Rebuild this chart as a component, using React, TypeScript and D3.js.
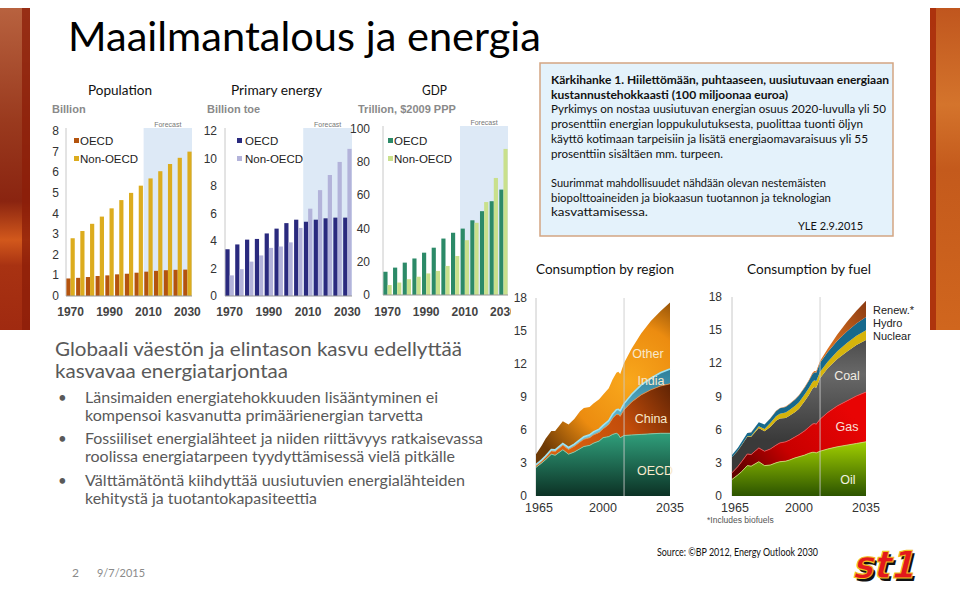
import React from "react";
import * as d3 from "d3";

// ---------- DATA ----------
const barYears = [1970, 1975, 1980, 1985, 1990, 1995, 2000, 2005, 2010, 2015, 2020, 2025, 2030];
const barYearLabels = [1970, 1990, 2010, 2030];
const popOECD = [0.85, 0.88, 0.92, 0.97, 1.0, 1.05, 1.08, 1.13, 1.18, 1.22, 1.25, 1.27, 1.28];
const popNonOECD = [2.8, 3.15, 3.5, 3.85, 4.25, 4.65, 5.0, 5.35, 5.7, 6.05, 6.4, 6.7, 7.0];
const popTicks = [0, 1, 2, 3, 4, 5, 6, 7, 8];
const energyOECD = [3.4, 3.75, 4.1, 4.15, 4.55, 4.9, 5.3, 5.55, 5.4, 5.55, 5.65, 5.7, 5.7];
const energyNonOECD = [1.5, 1.95, 2.5, 2.95, 3.5, 3.6, 3.9, 4.95, 6.35, 7.7, 8.8, 9.75, 10.7];
const energyTicks = [0, 2, 4, 6, 8, 10, 12];
const gdpOECD = [14, 16.5, 19.5, 22, 25.5, 28.5, 34, 37.5, 40, 45, 50.5, 56.5, 63.5];
const gdpNonOECD = [6, 7.5, 9.5, 11, 13, 14.5, 17.5, 23.5, 33, 43.5, 56, 70.5, 88];
const gdpTicks = [0, 20, 40, 60, 80, 100];

const areaYears = [1965, 1968, 1970, 1973, 1975, 1979, 1982, 1985, 1988, 1990, 1993, 1995, 1998, 2000, 2003, 2005, 2007, 2008, 2009, 2011, 2015, 2020, 2025, 2030, 2035];
const areaYearLabels = [1965, 2000, 2035];
const areaTicks = [0, 3, 6, 9, 12, 15, 18];
const forecastStartYear = 2011;

const regionOECD = [2.6, 3.0, 3.3, 3.8, 3.7, 4.2, 3.8, 4.0, 4.3, 4.5, 4.6, 4.8, 5.0, 5.3, 5.4, 5.6, 5.7, 5.6, 5.3, 5.5, 5.55, 5.6, 5.65, 5.7, 5.7];
const regionChina = [0.15, 0.18, 0.22, 0.3, 0.35, 0.42, 0.43, 0.52, 0.6, 0.65, 0.7, 0.75, 0.78, 0.8, 1.1, 1.45, 1.7, 1.8, 1.95, 2.35, 3.0, 3.6, 4.0, 4.3, 4.5];
const regionIndia = [0.1, 0.1, 0.12, 0.13, 0.14, 0.16, 0.18, 0.2, 0.22, 0.24, 0.26, 0.28, 0.3, 0.32, 0.36, 0.4, 0.45, 0.48, 0.5, 0.55, 0.7, 0.9, 1.05, 1.2, 1.35];
const regionOther = [0.95, 1.32, 1.56, 1.67, 1.71, 2.02, 2.09, 2.28, 2.58, 2.61, 2.54, 2.57, 2.72, 2.78, 2.94, 3.15, 3.35, 3.42, 3.35, 3.7, 4.15, 4.7, 5.2, 5.6, 6.05];

const fuelOil = [1.5, 1.9, 2.2, 2.75, 2.7, 3.1, 2.75, 2.8, 3.0, 3.1, 3.15, 3.25, 3.45, 3.55, 3.7, 3.85, 3.95, 3.95, 3.9, 4.05, 4.25, 4.45, 4.6, 4.75, 4.9];
const fuelGas = [0.6, 0.75, 0.9, 1.05, 1.05, 1.25, 1.3, 1.45, 1.6, 1.7, 1.75, 1.8, 1.9, 2.0, 2.2, 2.35, 2.55, 2.6, 2.6, 2.9, 3.3, 3.7, 4.0, 4.3, 4.5];
const fuelCoal = [1.4, 1.45, 1.5, 1.55, 1.6, 1.8, 1.8, 2.0, 2.2, 2.2, 2.15, 2.2, 2.25, 2.35, 2.7, 2.9, 3.2, 3.3, 3.3, 3.7, 4.0, 4.25, 4.45, 4.6, 4.7];
const fuelNuclear = [0.01, 0.01, 0.02, 0.05, 0.08, 0.15, 0.22, 0.35, 0.42, 0.45, 0.5, 0.53, 0.56, 0.58, 0.6, 0.62, 0.62, 0.62, 0.61, 0.6, 0.6, 0.7, 0.8, 0.85, 0.9];
const fuelHydro = [0.2, 0.23, 0.26, 0.29, 0.32, 0.37, 0.39, 0.42, 0.45, 0.48, 0.51, 0.53, 0.57, 0.6, 0.62, 0.65, 0.7, 0.72, 0.74, 0.8, 0.88, 0.95, 1.03, 1.1, 1.2];
const fuelRenew = [0, 0, 0, 0, 0.01, 0.01, 0.01, 0.02, 0.03, 0.03, 0.03, 0.04, 0.04, 0.05, 0.06, 0.07, 0.1, 0.12, 0.13, 0.15, 0.3, 0.55, 0.85, 1.15, 1.45];

// ---------- STYLE ----------
const SLIDE = "Lato, 'Open Sans', 'DejaVu Sans', sans-serif";
const ARIAL = "'Liberation Sans', Arial, sans-serif";
const NARROW = "'Liberation Sans Narrow', 'Liberation Sans', Arial, sans-serif";

type BarProps = {
  plotX0: number; plotX1: number; yBase: number; yTop: number; max: number;
  ticks: number[]; tickRight: number; a: number[]; b: number[];
  colA: string; colB: string; unit: string; unitX: number;
  legendX: number; legendTextX: number;
};

function BarChart(p: BarProps) {
  const x = d3.scaleBand<number>().domain(barYears).range([p.plotX0, p.plotX1]).paddingInner(0.14).paddingOuter(0.04);
  const sub = d3.scaleBand<number>().domain([0, 1]).range([0, x.bandwidth()]);
  const y = d3.scaleLinear().domain([0, p.max]).range([p.yBase, p.yTop]);
  const fStart = (x(2010) as number) - (x.step() - x.bandwidth()) / 2;
  const fTop = p.yTop - 3;
  return (
    <g>
      <rect x={fStart} y={fTop} width={p.plotX1 - fStart} height={p.yBase - fTop} fill="#dde9f6" />
      <text x={(fStart + p.plotX1) / 2} y={fTop - 1} fontSize={7} fill="#777" fontFamily={ARIAL} textAnchor="middle">Forecast</text>
      <text x={p.unitX} y={113} fontSize={11} fontWeight="bold" fill="#8a8a8a" fontFamily={ARIAL}>{p.unit}</text>
      <line x1={p.plotX0} x2={p.plotX0} y1={p.yTop - 3} y2={p.yBase} stroke="#c8c8c8" />
      {p.ticks.map((t) => (
        <text key={t} x={p.tickRight} y={y(t) + 4} fontSize={12} fill="#333" fontFamily={ARIAL} textAnchor="end">{t}</text>
      ))}
      {barYears.map((yr, i) => (
        <g key={yr}>
          <rect x={(x(yr) as number) + (sub(0) as number)} y={y(p.a[i])} width={sub.bandwidth()} height={p.yBase - y(p.a[i])} fill={p.colA} />
          <rect x={(x(yr) as number) + (sub(1) as number)} y={y(p.b[i])} width={sub.bandwidth()} height={p.yBase - y(p.b[i])} fill={p.colB} />
        </g>
      ))}
      <line x1={p.plotX0} x2={p.plotX1} y1={p.yBase} y2={p.yBase} stroke="#9a9a9a" />
      {barYearLabels.map((yr) => (
        <text key={yr} x={(x(yr) as number) + x.bandwidth() / 2} y={316} fontSize={12} fontWeight="bold" fill="#444" fontFamily={ARIAL} textAnchor="middle">{yr}</text>
      ))}
      <rect x={p.legendX} y={138} width={5} height={5} fill={p.colA} />
      <text x={p.legendTextX} y={144.5} fontSize={11.5} fill="#222" fontFamily={ARIAL}>OECD</text>
      <rect x={p.legendX} y={156} width={5} height={5} fill={p.colB} />
      <text x={p.legendTextX} y={162.5} fontSize={11.5} fill="#222" fontFamily={ARIAL}>Non-OECD</text>
    </g>
  );
}

type AreaProps = {
  x0: number; x1: number; yBase: number; yTop: number; tickRight: number;
  keys: string[]; values: number[][]; fills: string[]; edges: (string | null)[];
};

function StackChart(p: AreaProps) {
  const x = d3.scaleLinear().domain([1965, 2035]).range([p.x0, p.x1]);
  const y = d3.scaleLinear().domain([0, 18]).range([p.yBase, p.yTop]);
  const rows = areaYears.map((yr, i) => {
    const r: any = { year: yr };
    p.keys.forEach((k, j) => (r[k] = p.values[j][i]));
    return r;
  });
  const series = d3.stack<any>().keys(p.keys)(rows);
  const area = d3.area<any>().x((d) => x(d.data.year)).y0((d) => y(d[0])).y1((d) => y(d[1]));
  const topLine = d3.line<any>().x((d) => x(d.data.year)).y((d) => y(d[1]));
  return (
    <g>
      <line x1={p.x0} x2={p.x0} y1={p.yTop} y2={p.yBase} stroke="#c8c8c8" />
      {areaTicks.map((t) => (
        <text key={t} x={p.tickRight} y={y(t) + 4} fontSize={12} fill="#333" fontFamily={NARROW} textAnchor="end">{t}</text>
      ))}
      {series.map((s, i) => (
        <path key={p.keys[i]} d={area(s) as string} fill={p.fills[i]} />
      ))}
      {series.map((s, i) =>
        p.edges[i] ? <path key={"e" + i} d={topLine(s) as string} fill="none" stroke={p.edges[i] as string} strokeWidth={i === 2 && p.keys[2] === "India" ? 1.6 : 0.9} /> : null
      )}
      <line x1={x(forecastStartYear)} x2={x(forecastStartYear)} y1={p.yTop} y2={p.yBase} stroke="#c9c9c9" strokeOpacity={0.85} />
      {areaYearLabels.map((yr) => (
        <text key={yr} x={x(yr) + (yr === 1965 ? 3 : 0)} y={512} fontSize={12.5} fill="#333" fontFamily={NARROW} textAnchor="middle">{yr}</text>
      ))}
    </g>
  );
}

const boxLines: { t: string; b?: boolean; w?: number }[] = [
  { t: "Kärkihanke 1. Hiilettömään, puhtaaseen, uusiutuvaan energiaan", b: true, w: 338 },
  { t: "kustannustehokkaasti (100 miljoonaa euroa)", b: true, w: 237 },
  { t: "Pyrkimys on nostaa uusiutuvan energian osuus 2020-luvulla yli 50", w: 335 },
  { t: "prosenttiin energian loppukulutuksesta, puolittaa tuonti öljyn", w: 312 },
  { t: "käyttö kotimaan tarpeisiin ja lisätä energiaomavaraisuus yli 55", w: 317 },
  { t: "prosenttiin sisältäen mm. turpeen.", w: 172 },
  { t: "" },
  { t: "Suurimmat mahdollisuudet nähdään olevan nestemäisten", w: 275 },
  { t: "biopolttoaineiden ja biokaasun tuotannon ja teknologian", w: 280 },
  { t: "kasvattamisessa.", w: 97 },
];

const bullets: { lines: string[]; w: number[] }[] = [
  { lines: ["Länsimaiden energiatehokkuuden lisääntyminen ei", "kompensoi kasvanutta primäärienergian tarvetta"], w: [353, 338] },
  { lines: ["Fossiiliset energialähteet ja niiden riittävyys ratkaisevassa", "roolissa energiatarpeen tyydyttämisessä vielä pitkälle"], w: [398, 370] },
  { lines: ["Välttämätöntä kiihdyttää uusiutuvien energialähteiden", "kehitystä ja tuotantokapasiteettia"], w: [380, 232] },
];

export default function App() {
  return (
    <svg width={960} height={589} viewBox="0 0 960 589" style={{ position: "absolute", left: 0, top: 0, background: "#fff" }}>
      <defs>
        <linearGradient id="leftBar" x1="0" y1="0" x2="0" y2="1">
          <stop offset="0" stopColor="#b8623f" />
          <stop offset="0.35" stopColor="#9a3a1e" />
          <stop offset="0.6" stopColor="#8a2410" />
          <stop offset="0.72" stopColor="#d2581c" />
          <stop offset="0.8" stopColor="#a83212" />
          <stop offset="1" stopColor="#a02a10" />
        </linearGradient>
        <linearGradient id="rightBar" x1="0" y1="0" x2="0" y2="1">
          <stop offset="0" stopColor="#c0561e" />
          <stop offset="0.3" stopColor="#d4742c" />
          <stop offset="0.5" stopColor="#c45a1c" />
          <stop offset="1" stopColor="#d0661e" />
        </linearGradient>
        <linearGradient id="gOECD" gradientUnits="userSpaceOnUse" x1="0" y1="435" x2="0" y2="496">
          <stop offset="0" stopColor="#2f9c79" />
          <stop offset="1" stopColor="#0c3225" />
        </linearGradient>
        <linearGradient id="gChina" gradientUnits="userSpaceOnUse" x1="570" y1="450" x2="670" y2="380">
          <stop offset="0" stopColor="#d8600f" />
          <stop offset="0.5" stopColor="#c24c0a" />
          <stop offset="1" stopColor="#5c2204" />
        </linearGradient>
        <linearGradient id="gIndia" gradientUnits="userSpaceOnUse" x1="0" y1="370" x2="0" y2="430">
          <stop offset="0" stopColor="#2f7f9a" />
          <stop offset="1" stopColor="#6cc4da" />
        </linearGradient>
        <radialGradient id="gOther" gradientUnits="userSpaceOnUse" cx="628" cy="382" r="105">
          <stop offset="0" stopColor="#f9a81c" />
          <stop offset="0.55" stopColor="#ec8c10" />
          <stop offset="1" stopColor="#6e3a06" />
        </radialGradient>
        <linearGradient id="gOil" gradientUnits="userSpaceOnUse" x1="0" y1="440" x2="0" y2="496">
          <stop offset="0" stopColor="#a4d200" />
          <stop offset="1" stopColor="#2c5400" />
        </linearGradient>
        <linearGradient id="gGas" gradientUnits="userSpaceOnUse" x1="830" y1="390" x2="740" y2="470">
          <stop offset="0" stopColor="#e80404" />
          <stop offset="0.6" stopColor="#c80000" />
          <stop offset="1" stopColor="#640000" />
        </linearGradient>
        <linearGradient id="gCoal" gradientUnits="userSpaceOnUse" x1="0" y1="320" x2="0" y2="440">
          <stop offset="0" stopColor="#3c3c3c" />
          <stop offset="0.45" stopColor="#686868" />
          <stop offset="1" stopColor="#3a3a3a" />
        </linearGradient>
        <linearGradient id="gRenew" gradientUnits="userSpaceOnUse" x1="820" y1="330" x2="866" y2="300">
          <stop offset="0" stopColor="#d87020" />
          <stop offset="1" stopColor="#8a3a12" />
        </linearGradient>
        <clipPath id="gdpClip">
          <rect x={340} y={80} width={171} height={250} />
        </clipPath>
      </defs>

      {/* decorative side bars */}
      <rect x={0} y={8} width={30} height={322} fill="url(#leftBar)" />
      <rect x={22} y={8} width={8} height={322} fill="#8c1e08" opacity={0.75} />
      <rect x={930} y={8} width={30} height={322} fill="url(#rightBar)" />
      <rect x={930} y={8} width={6} height={322} fill="#a82c0a" opacity={0.85} />

      {/* title */}
      <text x={68} y={51} fontSize={40} fontFamily={SLIDE} fill="#000" textLength={473} lengthAdjust="spacingAndGlyphs">Maailmantalous ja energia</text>

      {/* chart titles */}
      <text x={88} y={95} fontSize={13.5} fontFamily={SLIDE} fill="#111" textLength={64} lengthAdjust="spacingAndGlyphs">Population</text>
      <text x={231} y={95} fontSize={13.5} fontFamily={SLIDE} fill="#111" textLength={91} lengthAdjust="spacingAndGlyphs">Primary energy</text>
      <text x={422} y={95} fontSize={13.5} fontFamily={SLIDE} fill="#111" textLength={25} lengthAdjust="spacingAndGlyphs">GDP</text>

      <BarChart plotX0={66} plotX1={192} yBase={296} yTop={131} max={8} ticks={popTicks} tickRight={59}
        a={popOECD} b={popNonOECD} colA="#b4540e" colB="#dcac1e" unit="Billion" unitX={52} legendX={74} legendTextX={80} />
      <BarChart plotX0={225} plotX1={352} yBase={296} yTop={131} max={12} ticks={energyTicks} tickRight={217}
        a={energyOECD} b={energyNonOECD} colA="#2a2a7e" colB="#b3b3da" unit="Billion toe" unitX={207} legendX={237} legendTextX={245} />
      <g clipPath="url(#gdpClip)">
        <BarChart plotX0={383} plotX1={508} yBase={295} yTop={129} max={100} ticks={gdpTicks} tickRight={370}
          a={gdpOECD} b={gdpNonOECD} colA="#2c8a68" colB="#c9e08c" unit="Trillion, $2009 PPP" unitX={358} legendX={388} legendTextX={394} />
      </g>

      {/* text box */}
      <rect x={540} y={63} width={353} height={173} fill="#e4f2fb" stroke="#d3a582" strokeWidth={1.5} />
      {boxLines.map((l, i) =>
        l.t ? (
          <text key={i} x={551} y={84 + i * 14.7} fontSize={11.8} fontFamily={SLIDE} fontWeight={l.b ? "bold" : "normal"} fill="#111"
            textLength={l.w} lengthAdjust="spacingAndGlyphs">{l.t}</text>
        ) : null
      )}
      <text x={798} y={230} fontSize={11.8} fontFamily={SLIDE} fill="#111" textLength={65} lengthAdjust="spacingAndGlyphs">YLE 2.9.2015</text>

      {/* area chart titles */}
      <text x={536} y={274} fontSize={14} fontFamily={SLIDE} fill="#111" textLength={138} lengthAdjust="spacingAndGlyphs">Consumption by region</text>
      <text x={747} y={274} fontSize={14} fontFamily={SLIDE} fill="#111" textLength={124} lengthAdjust="spacingAndGlyphs">Consumption by fuel</text>

      <StackChart x0={536} x1={670} yBase={496} yTop={298} tickRight={527}
        keys={["OECD", "China", "India", "Other"]}
        values={[regionOECD, regionChina, regionIndia, regionOther]}
        fills={["url(#gOECD)", "url(#gChina)", "url(#gIndia)", "url(#gOther)"]}
        edges={["#7fcfb0", "#e58a40", "#9fe2f2", null]} />
      <text x={648} y={358} fontSize={12.5} fontFamily={NARROW} fill="#f8e9cc" textAnchor="middle">Other</text>
      <text x={651} y={385} fontSize={12.5} fontFamily={NARROW} fill="#f8e9cc" textAnchor="middle">India</text>
      <text x={651} y={423} fontSize={12.5} fontFamily={NARROW} fill="#f8e9cc" textAnchor="middle">China</text>
      <text x={655} y={475} fontSize={12.5} fontFamily={NARROW} fill="#f8e9cc" textAnchor="middle">OECD</text>

      <StackChart x0={732} x1={866} yBase={496} yTop={297} tickRight={722}
        keys={["Oil", "Gas", "Coal", "Nuclear", "Hydro", "Renew"]}
        values={[fuelOil, fuelGas, fuelCoal, fuelNuclear, fuelHydro, fuelRenew]}
        fills={["url(#gOil)", "url(#gGas)", "url(#gCoal)", "#d6b40c", "#17698c", "url(#gRenew)"]}
        edges={["#c6e070", "#f05050", null, null, null, null]} />
      <text x={847} y={380} fontSize={12.5} fontFamily={NARROW} fill="#f2ede4" textAnchor="middle">Coal</text>
      <text x={847} y={431} fontSize={12.5} fontFamily={NARROW} fill="#f8e0d8" textAnchor="middle">Gas</text>
      <text x={848} y={484} fontSize={12.5} fontFamily={NARROW} fill="#f2f2e0" textAnchor="middle">Oil</text>
      <text x={873} y={314} fontSize={11} fontFamily={NARROW} fill="#222">Renew.*</text>
      <text x={873} y={327} fontSize={11} fontFamily={NARROW} fill="#222">Hydro</text>
      <text x={873} y={340} fontSize={11} fontFamily={NARROW} fill="#222">Nuclear</text>
      <text x={707} y={523} fontSize={8.5} fontFamily={NARROW} fill="#555">*Includes biofuels</text>

      {/* left text */}
      <text x={55} y={356} fontSize={20} fontFamily={SLIDE} fill="#595959" textLength={407} lengthAdjust="spacingAndGlyphs">Globaali väestön ja elintason kasvu edellyttää</text>
      <text x={55} y={378} fontSize={20} fontFamily={SLIDE} fill="#595959" textLength={233} lengthAdjust="spacingAndGlyphs">kasvavaa energiatarjontaa</text>
      {bullets.map((b, i) => {
        const base = [403, 444, 486][i];
        return (
          <g key={i}>
            <text x={58} y={base} fontSize={15} fontFamily={SLIDE} fill="#595959">•</text>
            {b.lines.map((ln, j) => (
              <text key={j} x={85} y={base + j * 17.5} fontSize={15} fontFamily={SLIDE} fill="#595959" textLength={b.w[j]} lengthAdjust="spacingAndGlyphs">{ln}</text>
            ))}
          </g>
        );
      })}

      {/* footer */}
      <text x={72} y={577} fontSize={12} fontFamily={SLIDE} fill="#8a8a8a">2</text>
      <text x={97} y={577} fontSize={12} fontFamily={SLIDE} fill="#8a8a8a" textLength={48} lengthAdjust="spacingAndGlyphs">9/7/2015</text>
      <text x={657} y={556} fontSize={11} fontFamily={SLIDE} fill="#111" textLength={161} lengthAdjust="spacingAndGlyphs">Source: ©BP 2012, Energy Outlook 2030</text>

      {/* st1 logo */}
      <g transform="translate(852,578) skewX(-14)">
        <text x={3} y={3} fontSize={38} fontWeight="bold" fontFamily="'DejaVu Sans', sans-serif" fill="#111" textLength={62} lengthAdjust="spacingAndGlyphs">st1</text>
        <text x={0} y={0} fontSize={38} fontWeight="bold" fontFamily="'DejaVu Sans', sans-serif" fill="#e3191c" stroke="#f0c020" strokeWidth={1.1} textLength={62} lengthAdjust="spacingAndGlyphs">st1</text>
      </g>
    </svg>
  );
}
